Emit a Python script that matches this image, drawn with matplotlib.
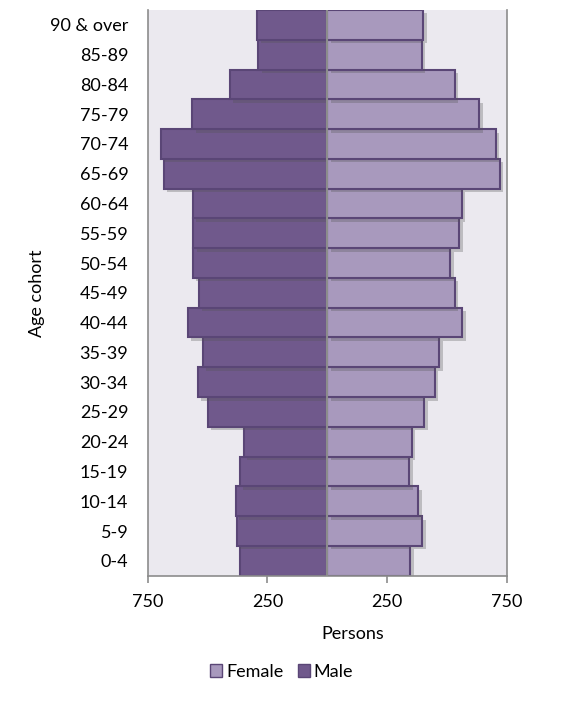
import matplotlib.pyplot as plt
import matplotlib.patheffects as pe
from matplotlib.ticker import FuncFormatter
from matplotlib.patches import Patch

plt.rcParams['font.family'] = ['Lato', 'DejaVu Sans']

ages = ["0-4", "5-9", "10-14", "15-19", "20-24", "25-29", "30-34", "35-39",
        "40-44", "45-49", "50-54", "55-59", "60-64", "65-69", "70-74",
        "75-79", "80-84", "85-89", "90 & over"]
male = [363, 379, 382, 365, 349, 499, 540, 521, 582, 536, 562, 560, 562,
        682, 696, 564, 407, 289, 292]
female = [347, 397, 380, 343, 354, 405, 449, 468, 565, 532, 514, 551, 561,
          720, 703, 635, 532, 394, 401]

male_col = "#70598c"
female_col = "#a899bd"
edge_col = "#5a4676"
fs = 13

fig = plt.figure(figsize=(5.63, 7.08), dpi=100)
ax = fig.add_axes([0.2624, 0.1869, 0.6377, 0.799])
ax.set_facecolor("#ebe9ef")

shadow = [pe.SimplePatchShadow(offset=(2.5, -2.5), shadow_rgbFace="#555555", alpha=0.3), pe.Normal()]
y = list(range(len(ages)))
bm = ax.barh(y, [-v for v in male], height=1.0, color=male_col, edgecolor=edge_col, linewidth=1.5, label="Male")
bf = ax.barh(y, female, height=1.0, color=female_col, edgecolor=edge_col, linewidth=1.5, label="Female")
for b in list(bm) + list(bf):
    b.set_path_effects(shadow)

ax.axvline(0, color="#8c8c8c", lw=1.5, zorder=5)

ax.set_xlim(-750, 750)
ax.set_ylim(-0.5, len(ages) - 0.5)
ax.set_xticks([-750, -250, 250, 750])
ax.xaxis.set_major_formatter(FuncFormatter(lambda v, p: f"{abs(int(v))}"))
ax.set_yticks(y)
ax.set_yticklabels(ages)
ax.tick_params(axis="y", length=0, pad=14, labelsize=fs)
ax.tick_params(axis="x", length=5, width=1.2, color="#8c8c8c", pad=8, labelsize=fs)

for s in ["left", "right", "bottom"]:
    ax.spines[s].set_color("#8c8c8c")
    ax.spines[s].set_linewidth(1.2)
ax.spines["top"].set_visible(False)

ax.set_ylabel("Age cohort", fontsize=fs)
ax.yaxis.set_label_coords(-0.285, 0.5)
fig.text(353 / 563, 1 - 634 / 708, "Persons", ha="center", va="center", fontsize=fs)

handles = [Patch(facecolor=female_col, edgecolor=edge_col, label="Female"),
           Patch(facecolor=male_col, edgecolor=edge_col, label="Male")]
fig.legend(handles=handles, loc="center", bbox_to_anchor=(0.5, 1 - 672 / 708), ncol=2,
           frameon=False, fontsize=fs, handlelength=0.7, handleheight=0.7,
           handletextpad=0.2, columnspacing=0.8)

fig.savefig("out.png", dpi=100)
